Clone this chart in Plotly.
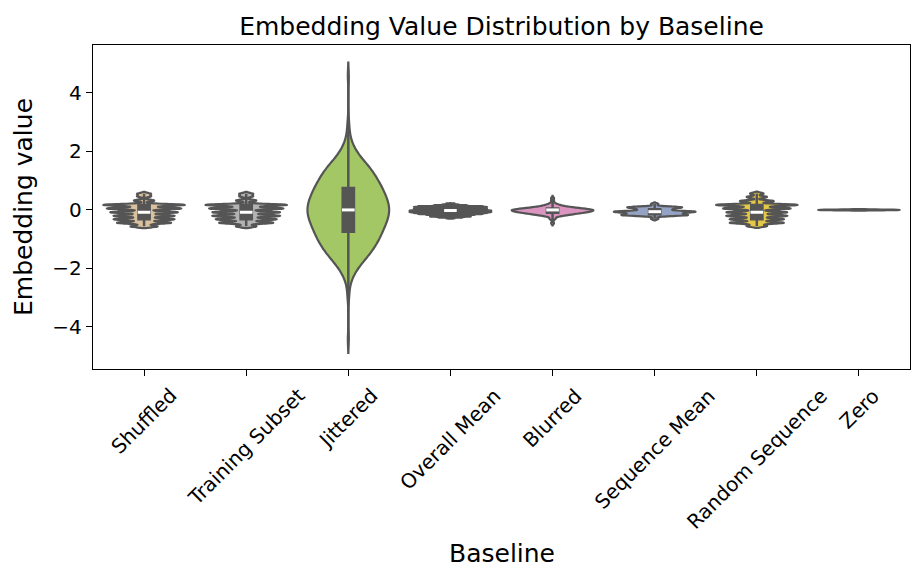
import colorsys
import numpy as np
import plotly.graph_objects as go

# baselines in plotting order
baselines = ["Shuffled", "Training Subset", "Jittered", "Overall Mean",
             "Blurred", "Sequence Mean", "Random Sequence", "Zero"]

# embedding values as (value level, how many samples)
shuffled_levels = [0.55, 0.47, 0.32, 0.17, 0.05, -0.08, -0.20, -0.32, -0.44, -0.56]
shuffled_counts = [2, 2, 3, 12, 11, 10, 9, 9, 8, 4]

training_levels = [0.55, 0.47, 0.32, 0.17, 0.05, -0.08, -0.20, -0.32, -0.44, -0.56]
training_counts = [2, 2, 3, 12, 11, 10, 10, 9, 8, 3]

jittered_levels = [-4.45, -3.0, -2.75, -2.5, -2.25, -2.0, -1.75, -1.5, -1.25, -1.0,
                   -0.75, -0.5, -0.25, 0.0, 0.25, 0.5, 0.75, 1.0, 1.25, 1.5,
                   1.75, 2.0, 2.25, 2.5, 2.75, 3.0, 4.6]
jittered_counts = [1, 1, 1, 2, 5, 9, 15, 21, 26, 30,
                   33, 36, 39, 40, 39, 36, 33, 29, 25, 20,
                   13, 8, 4, 2, 1, 1, 1]

overall_levels = [0.22, 0.19, 0.16, 0.13, 0.10, 0.07, 0.04, 0.01, -0.02, -0.05,
                  -0.08, -0.11, -0.14, -0.17, -0.20, -0.23, -0.26, -0.29]
overall_counts = [1, 2, 4, 8, 9, 8, 9, 9, 10, 10,
                  10, 9, 8, 6, 5, 5, 3, 1]

blurred_levels = [0.40, 0.30, 0.20, 0.15, 0.10, 0.05, 0.0, -0.05, -0.10, -0.15,
                  -0.20, -0.30, -0.45]
blurred_counts = [1, 1, 2, 3, 6, 11, 16, 14, 11, 7, 4, 2, 1]

seqmean_levels = [0.20, 0.09, 0.02, -0.06, -0.12, -0.18, -0.30]
seqmean_counts = [1, 7, 4, 10, 5, 8, 1]

random_levels = [0.56, 0.44, 0.30, 0.17, 0.05, -0.08, -0.20, -0.32, -0.44, -0.55]
random_counts = [2, 3, 5, 12, 10, 9, 9, 8, 8, 3]

zero_levels = [0.0]
zero_counts = [50]

levels = [shuffled_levels, training_levels, jittered_levels, overall_levels,
          blurred_levels, seqmean_levels, random_levels, zero_levels]
counts = [shuffled_counts, training_counts, jittered_counts, overall_counts,
          blurred_counts, seqmean_counts, random_counts, zero_counts]
bandwidths = [0.032, 0.032, 0.22, 0.005, 0.04, 0.03, 0.032, 0.012]

set2 = ["#e5c494", "#b3b3b3", "#a6d854", "#66c2a5",
        "#e78ac3", "#8da0cb", "#ffd92f", "#fc8d62"]


def desat(c, prop=0.75):
    r, g, b = [int(c[i:i + 2], 16) / 255 for i in (1, 3, 5)]
    h, l, s = colorsys.rgb_to_hls(r, g, b)
    r, g, b = colorsys.hls_to_rgb(h, l, s * prop)
    return "rgb(%d,%d,%d)" % (r * 255, g * 255, b * 255)


gray = "#555555"
fig = go.Figure()

med_x = []
med_y = []
for name, lv, ct, bw, col in zip(baselines, levels, counts, bandwidths, set2):
    vals = np.repeat(lv, ct)
    fig.add_trace(go.Violin(x=[name] * len(vals), y=vals, name=name,
                            bandwidth=bw, width=0.8, scalemode="width",
                            spanmode="soft", points=False,
                            fillcolor=desat(col), opacity=1,
                            line=dict(color=gray, width=2.2),
                            showlegend=False, hoverinfo="skip"))
    if name != "Zero":
        fig.add_trace(go.Box(x=[name] * len(vals), y=vals, name=name,
                             width=0.11, boxpoints=False, whiskerwidth=0,
                             fillcolor=gray, line=dict(color=gray, width=2.5),
                             showlegend=False, hoverinfo="skip"))
        med_x.append(name)
        med_y.append(float(np.median(vals)))

fig.add_trace(go.Scatter(x=med_x, y=med_y, mode="markers", showlegend=False,
                         marker=dict(symbol="line-ew", size=9,
                                     line=dict(color="white", width=3)),
                         hoverinfo="skip"))

# rotated category labels centred under their ticks
for name in baselines:
    fig.add_annotation(x=name, y=0, xref="x", yref="paper", text=name,
                       textangle=-45, showarrow=False, xanchor="center",
                       yanchor="top", yshift=-12,
                       font=dict(size=20, color="black"))

fig.add_annotation(x=0.5, y=0, xref="paper", yref="paper", text="Baseline",
                   showarrow=False, xanchor="center", yanchor="middle",
                   yshift=-184, font=dict(size=25, color="black"))

axis_style = dict(showline=True, linecolor="black", linewidth=1.3, mirror=True,
                  ticks="outside", ticklen=6, tickwidth=1.3, tickcolor="black",
                  showgrid=False, zeroline=False,
                  tickfont=dict(size=20, color="black"))

# the page body adds 8 px, so margins are shifted to compensate
fig.update_layout(
    width=924, height=583,
    font=dict(family="DejaVu Sans", color="black"),
    paper_bgcolor="white", plot_bgcolor="white",
    margin=dict(l=85, r=22, t=37, b=222),
    violinmode="overlay", boxmode="overlay",
    title=dict(text="Embedding Value Distribution by Baseline",
               font=dict(size=25), x=0.5, xref="paper",
               y=1 - 18 / 583, yanchor="middle"),
    xaxis=dict(axis_style, range=[-0.5, 7.5], showticklabels=False,
               categoryorder="array", categoryarray=baselines),
    yaxis=dict(axis_style, range=[-5.44, 5.64], tickvals=[-4, -2, 0, 2, 4],
               title=dict(text="Embedding value", font=dict(size=25), standoff=12)),
)

fig.write_html("out.html")
